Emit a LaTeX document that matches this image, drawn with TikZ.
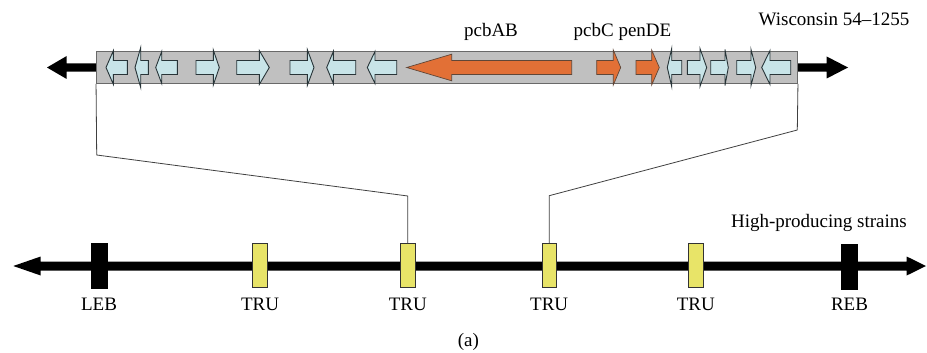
\documentclass[tikz,border=0pt]{standalone}
\usepackage{fontspec}
\setmainfont{Liberation Serif}
\definecolor{barfill}{RGB}{192,192,192}
\definecolor{barline}{RGB}{105,105,105}
\definecolor{genblue}{RGB}{200,228,232}
\definecolor{genline}{RGB}{40,52,56}
\definecolor{genorange}{RGB}{226,112,54}
\definecolor{truyellow}{RGB}{232,228,104}
\definecolor{connline}{RGB}{64,64,64}
\tikzset{
  barbox/.style={draw=barline, fill=barfill, line width=1.3pt, inner sep=0pt},
  bluegene/.style={fill=genblue, draw=genline, line width=0.9pt, line join=miter},
  orangegene/.style={fill=genorange, draw=genline!70!genorange, line width=0.7pt},
  trubox/.style={draw=black!80, fill=truyellow, line width=0.8pt, minimum width=14.5pt, minimum height=44pt, inner sep=0pt},
  endbox/.style={fill=black, draw=black, minimum width=16pt, minimum height=45pt, inner sep=0pt},
  lbl/.style={font=\fontsize{19}{23}\selectfont, inner sep=0pt},
  conn/.style={draw=connline, line width=0.8pt},
  blackarrow/.style={fill=black, draw=none}
}
\newcommand\genearr[5]{%
  \filldraw[#5] (#1,60.5) -- (#2,60.5) -- (#2,{67.5-#4}) -- (#3,67.5) -- (#2,{67.5+#4}) -- (#2,74.5) -- (#1,74.5) -- cycle;}
\begin{document}
\begin{tikzpicture}[x=1pt,y=-1pt]
\useasboundingbox (0,0) rectangle (927,353);
% top chromosome arms
\fill[blackarrow] (98,63.3) -- (66.7,63.3) -- (66.7,56) -- (47,67.5) -- (66.7,79) -- (66.7,71.7) -- (98,71.7) -- cycle;
\fill[blackarrow] (796,63.3) -- (826.7,63.3) -- (826.7,56.5) -- (848,67.5) -- (826.7,78.5) -- (826.7,71.7) -- (796,71.7) -- cycle;
% amplified region bar
\node[barbox, minimum width=700.6pt, minimum height=31.6pt] (bar) at (447,67.5) {};
% genes
\genearr{127.3}{113.3}{106}{16.7}{bluegene}
\genearr{148.3}{140.7}{135}{20}{bluegene}
\genearr{177.3}{161.7}{155.7}{16}{bluegene}
\genearr{196}{213.3}{219.3}{17.5}{bluegene}
\genearr{236.7}{259.3}{269.3}{17}{bluegene}
\genearr{290}{307.3}{314}{18}{bluegene}
\genearr{355.7}{333.3}{326.7}{16}{bluegene}
\genearr{396.7}{375}{367.3}{16}{bluegene}
\genearr{571.7}{451.7}{406.7}{13.3}{orangegene}
\genearr{596.7}{613.3}{620.7}{17.5}{orangegene}
\genearr{636}{651.7}{659.3}{17.5}{orangegene}
\genearr{681.7}{671.7}{667.3}{19}{bluegene}
\genearr{687.3}{700}{706.7}{19}{bluegene}
\genearr{710.7}{725}{728.3}{18}{bluegene}
\genearr{736.7}{751}{755.7}{18}{bluegene}
\genearr{790.7}{770}{761.7}{17}{bluegene}
% top labels
\node[lbl] (pcbab) at (491,32) {pcbAB};
\node[lbl] (pcbc) at (622.5,32) {pcbC penDE};
\node[lbl] (wisc) at (834,19.2) {Wisconsin 54\textendash 1255};
% bottom chromosome
\fill[blackarrow] (40.7,261.5) -- (40.7,256.5) -- (13.3,266) -- (40.7,275.5) -- (40.7,270.5) -- (906.7,270.5) -- (906.7,275.5) -- (926,266) -- (906.7,256.5) -- (906.7,261.5) -- cycle;
\node[endbox] (leb) at (99,265.8) {};
\node[trubox] (tru1) at (260,265.8) {};
\node[trubox] (tru2) at (407.8,265.5) {};
\node[trubox] (tru3) at (549.2,265.5) {};
\node[trubox] (tru4) at (695.8,265.7) {};
\node[endbox] (reb) at (849.5,266.2) {};
\node[lbl] (lleb) at (99,304.8) {LEB};
\node[lbl] (ltru1) at (260,304.5) {TRU};
\node[lbl] (ltru2) at (407.8,304.5) {TRU};
\node[lbl] (ltru3) at (549.2,304.5) {TRU};
\node[lbl] (ltru4) at (695.8,304.5) {TRU};
\node[lbl] (lreb) at (849.5,304.8) {REB};
\node[lbl, anchor=east] (hps) at (907,222.5) {High-producing strains};
\node[lbl] (cap) at (468.3,341.7) {(a)};
% connectors
\coordinate (lk1) at (96.7,155);
\coordinate (lk2) at (407.8,196);
\coordinate (rk1) at (797.3,130);
\coordinate (rk2) at (549.2,195.7);
\draw[conn] (bar.south west) -- (lk1) -- (lk2) -- (tru2.north);
\draw[conn] (bar.south east) -- (rk1) -- (rk2) -- (tru3.north);
\end{tikzpicture}
\end{document}
